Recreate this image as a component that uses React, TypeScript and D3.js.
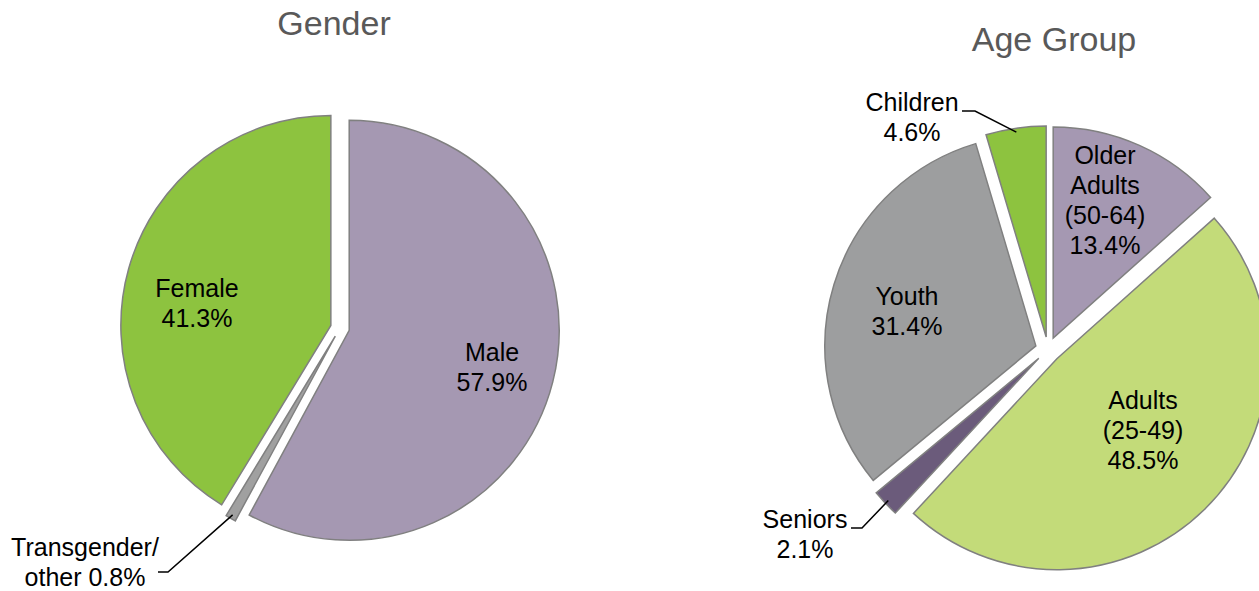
import React from 'react';
import * as d3 from 'd3';

// ---------- data ----------
const genderTitle = 'Gender';
const genderCategories = ['Male', 'Transgender/other', 'Female'];
const genderValues = [57.9, 0.8, 41.3];
const genderLabelLines = [['Male'], ['Transgender/', 'other'], ['Female']];
const genderColors = ['#A598B2', '#A0A0A0', '#8DC33F'];

const ageTitle = 'Age Group';
const ageCategories = ['Older Adults (50-64)', 'Adults (25-49)', 'Seniors', 'Youth', 'Children'];
const ageValues = [13.4, 48.5, 2.1, 31.4, 4.6];
const ageLabelLines = [['Older', 'Adults', '(50-64)'], ['Adults', '(25-49)'], ['Seniors'], ['Youth'], ['Children']];
const ageColors = ['#A598B2', '#C3DB79', '#6B5B7B', '#9D9E9F', '#8DC33F'];

// ---------- layout ----------
const W = 1259;
const H = 591;
const FONT = '"Liberation Sans", Arial, sans-serif';

type LabelPos = { x: number; y: number; inline?: boolean; leader?: { x0: number; x1: number; y: number } };

const genderLayout = {
  cx: 340, cy: 328, r: 210, explode: 9.5, titleX: 334, titleY: 35,
  labels: [
    { x: 492, y: 352 },
    { x: 85, y: 547, inline: true, leader: { x0: 158, x1: 168, y: 572 } },
    { x: 197, y: 288 },
  ] as LabelPos[],
};

const ageLayout = {
  cx: 1048, cy: 349.6, r: 211, explode: 12.7, titleX: 1054, titleY: 51,
  labels: [
    { x: 1105, y: 155 },
    { x: 1143, y: 400 },
    { x: 805, y: 519, leader: { x0: 851, x1: 862, y: 528 } },
    { x: 907, y: 296 },
    { x: 912, y: 102, leader: { x0: 962, x1: 975, y: 111 } },
  ] as LabelPos[],
};

const pct = (v: number) => `${v.toFixed(1)}%`;

function PieChart(props: {
  title: string;
  values: number[];
  lines: string[][];
  colors: string[];
  layout: typeof genderLayout;
}) {
  const { title, values, lines, colors, layout } = props;
  const { cx, cy, r, explode } = layout;
  const pie = d3.pie<number>().sort(null).value((d) => d);
  const arcs = pie(values);
  const arc = d3.arc<d3.PieArcDatum<number>>().innerRadius(0).outerRadius(r);
  const lineH = 30;

  return (
    <g>
      <text x={layout.titleX} y={layout.titleY} textAnchor="middle" fontFamily={FONT} fontSize={34} fill="#595959">
        {title}
      </text>
      {arcs.map((a, i) => {
        const mid = (a.startAngle + a.endAngle) / 2;
        const ox = cx + Math.sin(mid) * explode;
        const oy = cy - Math.cos(mid) * explode;
        return (
          <path
            key={`s${i}`}
            d={arc(a) || ''}
            transform={`translate(${ox},${oy})`}
            fill={colors[i]}
            stroke="#808080"
            strokeWidth={1.5}
            strokeLinejoin="miter"
          />
        );
      })}
      {arcs.map((a, i) => {
        const lp = layout.labels[i];
        const mid = (a.startAngle + a.endAngle) / 2;
        const ox = cx + Math.sin(mid) * explode;
        const oy = cy - Math.cos(mid) * explode;
        const tx = ox + Math.sin(mid) * (r - 4);
        const ty = oy - Math.cos(mid) * (r - 4);
        let textLines: string[];
        if (lp.inline) {
          textLines = [...lines[i].slice(0, -1), `${lines[i][lines[i].length - 1]} ${pct(values[i])}`];
        } else {
          textLines = [...lines[i], pct(values[i])];
        }
        return (
          <g key={`l${i}`}>
            {lp.leader && (
              <polyline
                points={`${lp.leader.x0},${lp.leader.y} ${lp.leader.x1},${lp.leader.y} ${tx},${ty}`}
                fill="none"
                stroke="#000"
                strokeWidth={1.5}
              />
            )}
            {textLines.map((t, j) => (
              <text
                key={j}
                x={lp.x}
                y={lp.y + j * lineH}
                textAnchor="middle"
                dominantBaseline="central"
                fontFamily={FONT}
                fontSize={25}
                fill="#000"
              >
                {t}
              </text>
            ))}
          </g>
        );
      })}
    </g>
  );
}

export default function App() {
  return (
    <svg
      width={W}
      height={H}
      viewBox={`0 0 ${W} ${H}`}
      style={{ position: 'absolute', left: 0, top: 0, background: '#fff' }}
    >
      <rect x={0} y={0} width={W} height={H} fill="#fff" />
      <PieChart title={genderTitle} values={genderValues} lines={genderLabelLines} colors={genderColors} layout={genderLayout} />
      <PieChart title={ageTitle} values={ageValues} lines={ageLabelLines} colors={ageColors} layout={ageLayout} />
    </svg>
  );
}
